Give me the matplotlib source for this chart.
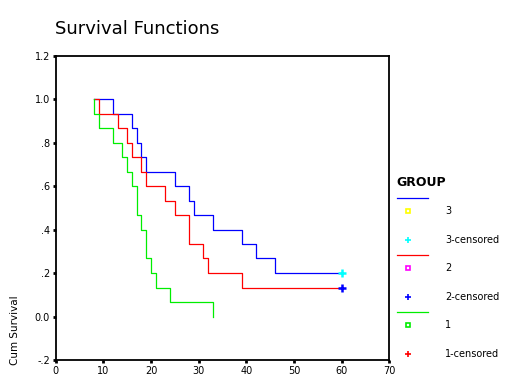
import matplotlib
matplotlib.use('Agg')
import matplotlib.pyplot as plt
from matplotlib.ticker import FixedLocator, FixedFormatter

# Kaplan-Meier steps (time, cumulative survival)
g3_time = [8, 12, 16, 17, 18, 19, 25, 28, 29, 33, 39, 42, 46, 60]
g3_surv = [1.0, .933, .867, .8, .733, .667, .6, .533, .467, .4, .333, .267, .2, .2]
g2_time = [8, 9, 13, 15, 16, 18, 19, 23, 25, 28, 31, 32, 39, 60]
g2_surv = [1.0, .933, .867, .8, .733, .667, .6, .533, .467, .333, .267, .2, .133, .133]
g1_time = [8, 8, 9, 12, 14, 15, 16, 17, 18, 19, 20, 21, 24, 33]
g1_surv = [1.0, .933, .867, .8, .733, .667, .6, .467, .4, .267, .2, .133, .067, 0.0]

# censored points
g3_cens_t, g3_cens_s = [60], [.2]
g2_cens_t, g2_cens_s = [60], [.133]

y_ticks = [-0.2, 0.0, 0.2, 0.4, 0.6, 0.8, 1.0, 1.2]
y_labels = ['-.2', '0.0', '.2', '.4', '.6', '.8', '1.0', '1.2']
x_ticks = [0, 10, 20, 30, 40, 50, 60, 70]

legend_items = ['3', '3-censored', '2', '2-censored', '1', '1-censored']

plt.rcParams['font.family'] = 'DejaVu Sans'

fig = plt.figure(figsize=(5.2, 3.9), dpi=100)
ax = fig.add_axes([0.107, 0.077, 0.642, 0.780])

ax.plot(g3_time, g3_surv, drawstyle='steps-post', color='#0000ff', lw=0.9)
ax.plot(g2_time, g2_surv, drawstyle='steps-post', color='#ff0000', lw=0.9)
ax.plot(g1_time, g1_surv, drawstyle='steps-post', color='#00ee00', lw=0.9)
ax.plot(g3_cens_t, g3_cens_s, '+', color='#00ffff', ms=6, mew=1.8)
ax.plot(g2_cens_t, g2_cens_s, '+', color='#0000ff', ms=6, mew=1.8)

ax.set_xlim(0, 70)
ax.set_ylim(-0.2, 1.2)
ax.xaxis.set_major_locator(FixedLocator(x_ticks))
ax.yaxis.set_major_locator(FixedLocator(y_ticks))
ax.yaxis.set_major_formatter(FixedFormatter(y_labels))
ax.tick_params(direction='out', length=2, width=2, labelsize=7, pad=2)
for s in ax.spines.values():
    s.set_linewidth(1.3)

fig.text(0.105, 0.925, 'Survival Functions', fontsize=13, ha='left', va='center')
fig.text(0.028, 0.153, 'Cum Survival', fontsize=7.5, rotation=90, ha='center', va='center')

# legend drawn in pixel coordinates
lax = fig.add_axes([0, 0, 1, 1])
lax.set_xlim(0, 520)
lax.set_ylim(390, 0)
lax.axis('off')
lax.text(396, 182, 'GROUP', fontsize=9, fontweight='bold', va='center', ha='left')
line_cols = ['#0000ff', '#ff0000', '#00ee00']
sq_cols = ['#ffff00', '#ff00ff', '#00ee00']
cens_cols = ['#00ffff', '#0000ff', '#ff0000']
y0 = 198
for i in range(3):
    yb = y0 + i * 57
    lax.plot([397, 428], [yb, yb], color=line_cols[i], lw=0.9)
    lax.plot([408], [yb + 13], 's', mfc='none', mec=sq_cols[i], ms=3.5, mew=1.2)
    lax.text(445, yb + 13, legend_items[2 * i], fontsize=7, va='center')
    lax.plot([408], [yb + 42], '+', color=cens_cols[i], ms=5, mew=1.2)
    lax.text(445, yb + 42, legend_items[2 * i + 1], fontsize=7, va='center')

fig.savefig('out.png', dpi=100)
